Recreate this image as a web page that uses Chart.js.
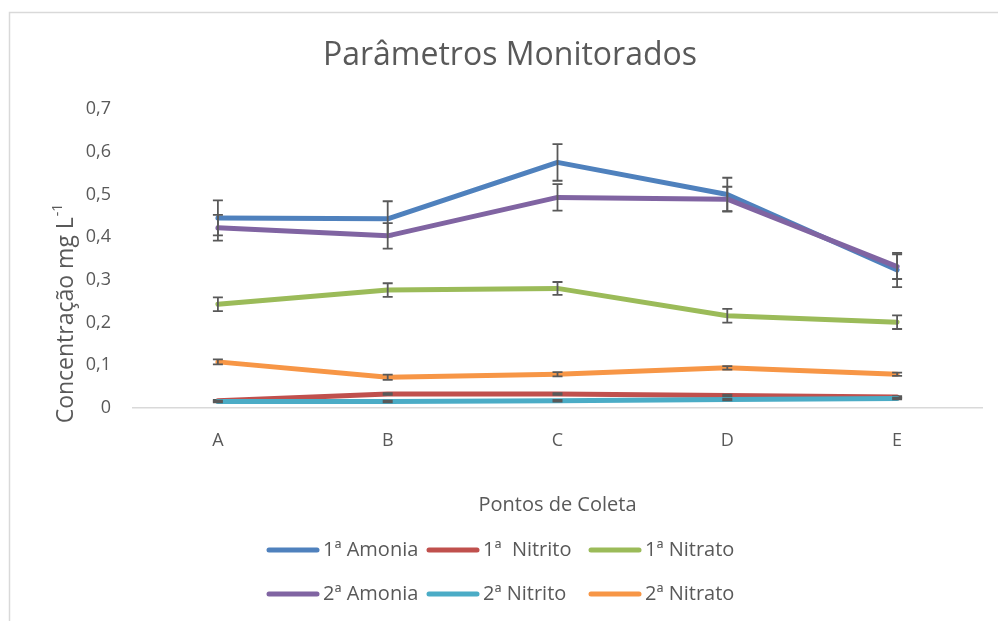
<!DOCTYPE html>
<html>
<head>
<meta charset="utf-8">
<script src="https://cdn.jsdelivr.net/npm/chart.js@4"></script>
<style>
  body { margin: 0; background: #fff; }
  #wrap { width: 998px; height: 621px; }
</style>
</head>
<body>
<div id="wrap"><canvas id="paramChart"></canvas></div>
<script>
// Pontos de coleta
const pontos = ['A', 'B', 'C', 'D', 'E'];

// valores (mg/L)
const amonia1 = [0.445, 0.443, 0.575, 0.500, 0.323];
const nitrito1 = [0.017, 0.033, 0.033, 0.029, 0.026];
const nitrato1 = [0.243, 0.276, 0.280, 0.216, 0.201];
const amonia2 = [0.422, 0.403, 0.493, 0.489, 0.331];
const nitrito2 = [0.015, 0.015, 0.017, 0.020, 0.022];
const nitrato2 = [0.108, 0.072, 0.079, 0.094, 0.079];

// barras de erro (+/-)
const erroAmonia1 = [0.041, 0.041, 0.043, 0.039, 0.040];
const erroNitrito1 = [0.002, 0.002, 0.002, 0.002, 0.002];
const erroNitrato1 = [0.016, 0.016, 0.015, 0.016, 0.016];
const erroAmonia2 = [0.030, 0.030, 0.031, 0.029, 0.029];
const erroNitrito2 = [0.002, 0.002, 0.002, 0.002, 0.002];
const erroNitrato2 = [0.006, 0.006, 0.005, 0.004, 0.004];

const yTicks = [0, 0.1, 0.2, 0.3, 0.4, 0.5, 0.6, 0.7];

const series = [
  { label: '1ª Amonia', data: amonia1, erro: erroAmonia1, cor: '#4F81BD' },
  { label: '1ª  Nitrito', data: nitrito1, erro: erroNitrito1, cor: '#C0504D' },
  { label: '1ª Nitrato', data: nitrato1, erro: erroNitrato1, cor: '#9BBB59' },
  { label: '2ª Amonia', data: amonia2, erro: erroAmonia2, cor: '#8064A2' },
  { label: '2ª Nitrito', data: nitrito2, erro: erroNitrito2, cor: '#4BACC6' },
  { label: '2ª Nitrato', data: nitrato2, erro: erroNitrato2, cor: '#F79646' }
];

const textColor = '#595959';
const fonte = '"Open Sans", "Noto Sans", sans-serif';

// fundo, borda, titulos e legenda
const decoracao = {
  id: 'decoracao',
  beforeDraw(chart) {
    const ctx = chart.ctx;
    ctx.save();
    ctx.fillStyle = '#fff';
    ctx.fillRect(0, 0, chart.width, chart.height);
    ctx.strokeStyle = '#d9d9d9';
    ctx.lineWidth = 1.5;
    ctx.beginPath();
    ctx.moveTo(9.5, chart.height);
    ctx.lineTo(9.5, 12.5);
    ctx.lineTo(chart.width, 12.5);
    ctx.stroke();
    ctx.restore();
  },
  afterDraw(chart) {
    const ctx = chart.ctx;
    const area = chart.chartArea;
    ctx.save();
    ctx.fillStyle = textColor;
    ctx.textBaseline = 'middle';

    // titulo
    ctx.textAlign = 'center';
    ctx.font = '32px ' + fonte;
    ctx.fillText('Parâmetros Monitorados', 510, 56);

    // titulo eixo x
    ctx.font = '20px ' + fonte;
    ctx.fillText('Pontos de Coleta', (area.left + area.right) / 2, 505);

    // titulo eixo y com sobrescrito
    ctx.translate(66, 314);
    ctx.rotate(-Math.PI / 2);
    const base = 'Concentração mg L';
    ctx.font = '23px ' + fonte;
    const wBase = ctx.measureText(base).width;
    ctx.font = '14px ' + fonte;
    const wSup = ctx.measureText('-1').width;
    const x0 = -(wBase + wSup) / 2;
    ctx.textAlign = 'left';
    ctx.font = '23px ' + fonte;
    ctx.fillText(base, x0, 0);
    ctx.font = '14px ' + fonte;
    ctx.fillText('-1', x0 + wBase + 1, -8);
    ctx.setTransform(1, 0, 0, 1, 0, 0);

    // legenda em duas linhas
    const colunas = [267, 427, 589];
    const linhas = [550, 594];
    ctx.font = '20px ' + fonte;
    ctx.textAlign = 'left';
    chart.data.datasets.forEach((ds, i) => {
      const x = colunas[i % 3];
      const y = linhas[Math.floor(i / 3)];
      ctx.strokeStyle = ds.borderColor;
      ctx.lineWidth = 5;
      ctx.lineCap = 'round';
      ctx.beginPath();
      ctx.moveTo(x + 2, y);
      ctx.lineTo(x + 50, y);
      ctx.stroke();
      ctx.fillStyle = textColor;
      ctx.fillText(ds.label, x + 56, y);
    });
    ctx.restore();
  }
};

// barras de erro desenhadas com as escalas do grafico
const barrasErro = {
  id: 'barrasErro',
  afterDatasetDraw(chart, args) {
    const ds = chart.data.datasets[args.index];
    const meta = args.meta;
    const yScale = chart.scales.y;
    const ctx = chart.ctx;
    ctx.save();
    ctx.strokeStyle = '#595959';
    ctx.lineWidth = 1.8;
    meta.data.forEach((pt, j) => {
      const v = ds.data[j];
      const e = ds.erro[j];
      const yTop = yScale.getPixelForValue(v + e);
      const yBot = yScale.getPixelForValue(v - e);
      const x = pt.x;
      ctx.beginPath();
      ctx.moveTo(x, yTop);
      ctx.lineTo(x, yBot);
      ctx.moveTo(x - 5, yTop);
      ctx.lineTo(x + 5, yTop);
      ctx.moveTo(x - 5, yBot);
      ctx.lineTo(x + 5, yBot);
      ctx.stroke();
    });
    ctx.restore();
  }
};

const ctxParam = document.getElementById('paramChart').getContext('2d');
const paramChart = new Chart(ctxParam, {
  type: 'line',
  data: {
    labels: pontos,
    datasets: series.map((s, i) => ({
      label: s.label,
      data: s.data,
      erro: s.erro,
      borderColor: s.cor,
      backgroundColor: s.cor,
      borderWidth: 5,
      borderCapStyle: 'round',
      borderJoinStyle: 'round',
      pointRadius: 0,
      tension: 0,
      fill: false,
      order: series.length - i
    }))
  },
  options: {
    responsive: true,
    maintainAspectRatio: false,
    animation: false,
    layout: { padding: { left: 20, right: 16, top: 109, bottom: 153 } },
    plugins: {
      legend: { display: false },
      title: { display: false },
      tooltip: { enabled: false }
    },
    scales: {
      x: {
        offset: true,
        afterFit: s => { s.height = 60; },
        grid: { display: false, drawTicks: false },
        border: { display: true, color: '#d9d9d9', width: 1.5 },
        ticks: { color: textColor, font: { family: fonte, size: 18 }, padding: 22 }
      },
      y: {
        min: 0,
        max: 0.7,
        afterFit: s => { s.width = 113; },
        afterBuildTicks: s => { s.ticks = yTicks.map(v => ({ value: v })); },
        grid: { display: false, drawTicks: false },
        border: { display: false },
        ticks: {
          color: textColor,
          font: { family: fonte, size: 18 },
          padding: 22,
          callback: v => String(Math.round(v * 10) / 10).replace('.', ',')
        }
      }
    }
  },
  plugins: [decoracao, barrasErro]
});
</script>
</body>
</html>
